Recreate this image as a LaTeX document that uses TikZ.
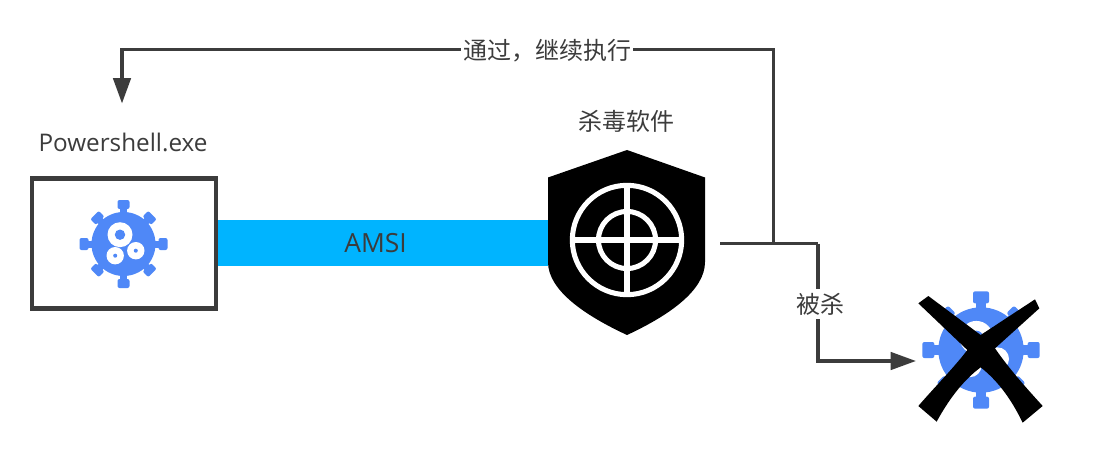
\documentclass[tikz,border=0pt]{standalone}
\usepackage{fontspec}
\setmainfont{Open Sans}
\newfontfamily\cjk{Noto Sans CJK SC}
\usetikzlibrary{arrows.meta}
\definecolor{ink}{HTML}{3C3C3C}
\definecolor{virus}{HTML}{4F88F7}
\definecolor{barblue}{HTML}{00B4FF}
\tikzset{
  lbl/.style={text=ink,font=\fontsize{18.2}{22}\selectfont,inner sep=0pt},
  cjklbl/.style={text=ink,font=\fontsize{18}{22}\selectfont\cjk,inner sep=0pt},
  conn/.style={draw=ink,line width=2.6pt,-{Triangle[length=19pt,width=13pt]}},
  plainconn/.style={draw=ink,line width=2.6pt},
  vspike/.style={fill=virus,rounded corners=1.5pt}
}
\newcommand{\virusicon}{%
  \foreach \a in {0,90,180,270}{
    \begin{scope}[rotate=\a]
      \fill[virus] (-3.5,25) rectangle (3.5,38);
      \fill[vspike] (-6,35) rectangle (6,44);
    \end{scope}
  }
  \foreach \a in {45,135,225,315}{
    \begin{scope}[rotate=\a]
      \fill[virus] (-3.5,25) rectangle (3.5,36);
      \fill[vspike] (-6,33) rectangle (6,41);
    \end{scope}
  }
  \fill[virus] (0,0) circle (32);
  \fill[white] (-3.5,9.3) circle (12.5);
  \fill[virus] (-3.5,9.3) circle (5.2);
  \fill[white] (12.3,-6.7) circle (8.7);
  \fill[virus] (12.3,-6.7) circle (2);
  \fill[white] (-8.3,-11.7) circle (8.7);
  \fill[virus] (-8.3,-11.7) circle (2);
}
\begin{document}
\begin{tikzpicture}[x=0.75pt,y=-0.75pt]
\useasboundingbox (0,0) rectangle (1116,474);
\fill[white] (0,0) rectangle (1116,474);
% AMSI bar
\node[fill=barblue,minimum width=247.5pt,minimum height=34.5pt,inner sep=0pt] (bar) at (383,243) {};
\node[lbl,font=\fontsize{19.8}{22}\selectfont] (amsi) at (375.5,243) {AMSI};
% host box
\node[draw=ink,line width=3.2pt,fill=white,minimum width=138.5pt,minimum height=97.5pt,inner sep=0pt] (hostbox) at (124,243.5) {};
\node[lbl] (psname) at (123,142) {Powershell.exe};
\begin{scope}[shift={(123.5,244)},x=0.75pt,y=0.75pt]
  \virusicon
\end{scope}
% shield
\fill[black] (627,150) -- (705,177.5) -- (705,262)
  .. controls (705,290) and (670,315) .. (627,335)
  .. controls (584,315) and (548,290) .. (548,262)
  -- (548,177.5) -- cycle;
\begin{scope}[draw=white,line width=3.8pt]
  \draw (627,240) circle [radius=41pt];
  \draw (627,240) circle [radius=21.4pt];
  \draw (627,185) -- (627,295);
  \draw (572,240) -- (682,240);
\end{scope}
\node[cjklbl] (avname) at (626,121) {杀毒软件};
% killed virus
\begin{scope}[shift={(981,350)},x=1pt,y=1pt]
  \virusicon
\end{scope}
\begin{scope}[shift={(890,280)},x=0.25pt,y=-0.25pt]
  \fill[black] (85,70) -- (115,48) -- (272,165) -- (435,58) -- (448,85) -- (315,205)
    .. controls (360,270) and (410,325) .. (458,378) -- (398,428)
    .. controls (360,350) and (320,300) .. (272,262)
    .. controls (220,300) and (175,360) .. (140,425) -- (85,378)
    .. controls (135,320) and (190,265) .. (232,210) -- cycle;
\end{scope}
% connectors
\coordinate (src) at (720,243.5);
\coordinate (junction) at (773.5,243.5);
\coordinate (elbowa) at (818,243.5);
\coordinate (elbowb) at (818,361);
\coordinate (killed) at (916,361);
\coordinate (topr) at (773.5,49.5);
\coordinate (topl) at (122,49.5);
\coordinate (back) at (122,103.5);
\draw[plainconn] (src) -- (elbowa);
\draw[conn] (elbowa) -- (elbowb) -- (killed);
\draw[conn] (junction) -- (topr) -- (topl) -- (back);
\node[cjklbl,fill=white,inner xsep=1.5pt,inner ysep=3pt] (passlbl) at (547,51) {通过，继续执行};
\node[cjklbl,fill=white,inner xsep=1.5pt,inner ysep=3pt] (killlbl) at (820,304) {被杀};
\end{tikzpicture}
\end{document}
